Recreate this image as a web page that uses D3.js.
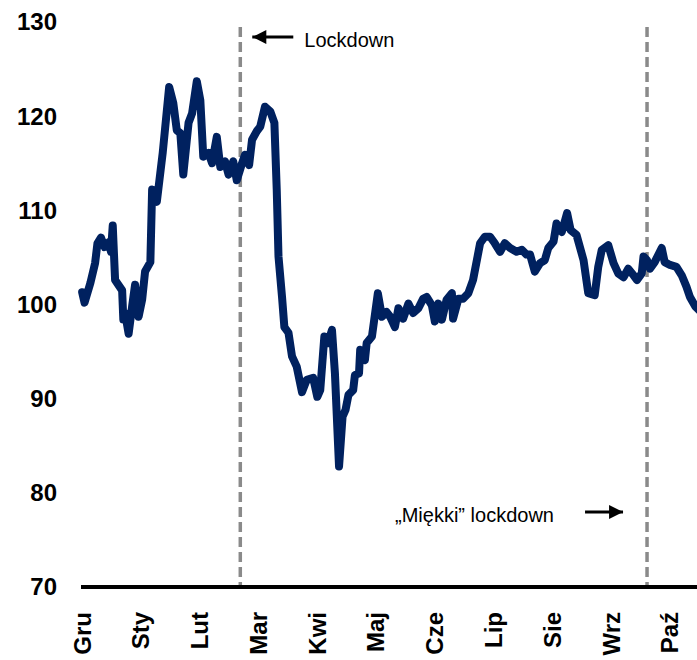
<!DOCTYPE html>
<html>
<head>
<meta charset="utf-8">
<script src="https://cdn.jsdelivr.net/npm/d3@7"></script>
<style>
	body { margin: 0; background: #fff; }
	text { font-family: "Liberation Sans", Arial, sans-serif; }
	.tick-label { font-size: 24px; font-weight: bold; fill: #000; }
	.note { font-size: 20px; fill: #000; }
</style>
</head>
<body>
<div class="container"></div>
<script>
// months on the x axis, position = index
var months = ['Gru', 'Sty', 'Lut', 'Mar', 'Kwi', 'Maj', 'Cze', 'Lip', 'Sie', 'Wrz', 'Paź'];

var yTicks = [70, 80, 90, 100, 110, 120, 130];

// time in months since start of the chart
var t = [
	0.00, 0.04, 0.14, 0.22, 0.26, 0.32, 0.38, 0.45, 0.49, 0.52,
	0.56, 0.68, 0.70, 0.73, 0.79, 0.85, 0.90, 0.96, 1.02, 1.07,
	1.16, 1.19, 1.27, 1.37, 1.48, 1.55, 1.61, 1.67, 1.72, 1.81,
	1.87, 1.95, 2.01, 2.06, 2.15, 2.21, 2.29, 2.35, 2.43, 2.49,
	2.57, 2.63, 2.72, 2.77, 2.84, 2.89, 2.97, 3.03, 3.11, 3.20,
	3.27, 3.31, 3.34, 3.40, 3.44, 3.51, 3.57, 3.65, 3.74, 3.82,
	3.93, 4.00, 4.05, 4.12, 4.18, 4.25, 4.30, 4.37, 4.43, 4.48,
	4.53, 4.61, 4.64, 4.71, 4.73, 4.81, 4.84, 4.93, 5.03, 5.10,
	5.18, 5.24, 5.32, 5.38, 5.46, 5.55, 5.63, 5.72, 5.80, 5.86,
	5.95, 6.00, 6.06, 6.12, 6.20, 6.29, 6.31, 6.40, 6.48, 6.57,
	6.65, 6.77, 6.85, 6.94, 7.02, 7.11, 7.19, 7.28, 7.39, 7.48,
	7.56, 7.62, 7.70, 7.79, 7.87, 7.93, 8.02, 8.07, 8.16, 8.25,
	8.31, 8.41, 8.53, 8.61, 8.72, 8.78, 8.84, 8.95, 9.04, 9.12,
	9.21, 9.29, 9.38, 9.44, 9.52, 9.55, 9.61, 9.66, 9.74, 9.86,
	9.91, 10.00, 10.11, 10.20, 10.28, 10.34, 10.43, 10.51
];

var values = [
	101.3, 100.2, 102.3, 104.4, 106.5, 107.1, 106.1, 106.6, 105.6, 108.4,
	102.6, 101.5, 98.4, 99.1, 96.9, 99.8, 102.1, 98.7, 100.5, 103.5,
	104.5, 112.2, 110.9, 116.1, 123.1, 121.4, 118.5, 118.2, 113.8, 119.3,
	120.3, 123.7, 121.7, 115.7, 116.1, 115.0, 117.8, 114.6, 115.2, 113.8,
	115.2, 113.2, 115.0, 115.9, 114.8, 117.5, 118.4, 118.9, 121.0, 120.5,
	119.3, 112.2, 105.1, 100.8, 97.6, 97.0, 94.5, 93.4, 90.7, 92.0,
	92.2, 90.2, 90.9, 96.6, 95.9, 97.3, 92.7, 82.8, 88.1, 88.8,
	90.4, 90.9, 92.5, 92.7, 95.2, 94.1, 95.9, 96.6, 101.2, 98.7,
	99.2, 98.7, 97.6, 99.6, 98.5, 100.1, 99.1, 99.6, 100.6, 100.8,
	99.9, 98.2, 100.1, 98.4, 100.5, 101.2, 98.5, 100.6, 100.6, 101.2,
	102.6, 106.5, 107.2, 107.2, 106.5, 105.6, 106.5, 106.0, 105.6, 105.8,
	105.3, 105.3, 103.5, 104.4, 104.7, 106.0, 106.7, 108.6, 107.7, 109.7,
	107.9, 107.4, 104.7, 101.2, 101.0, 104.0, 105.8, 106.3, 104.4, 103.3,
	102.9, 103.8, 103.1, 102.6, 103.3, 105.1, 104.7, 103.8, 104.5, 106.0,
	104.5, 104.2, 104.0, 103.1, 101.9, 100.8, 99.8, 99.3
];

// dashed event markers
var events = [2.69, 9.61];
var eventLabels = ['Lockdown', '\u201EMiękki\u201D lockdown'];

var width = 697,
	height = 660;

var x = d3.scaleLinear()
	.domain([-0.02, 10.46])
	.range([81, 697]);

var y = d3.scaleLinear()
	.domain([70, 130])
	.range([587, 22]);

var svg = d3.select('.container')
	.append('svg')
	.attr('width', width)
	.attr('height', height);

var defs = svg.append('defs');

defs.append('marker')
	.attr('id', 'arrow')
	.attr('viewBox', '0 0 10 10')
	.attr('refX', 10)
	.attr('refY', 5)
	.attr('markerUnits', 'userSpaceOnUse')
	.attr('markerWidth', 15)
	.attr('markerHeight', 14)
	.attr('orient', 'auto')
	.append('path')
		.attr('d', 'M0,0L10,5L0,10Z')
		.style('fill', '#000');

// y axis labels, no axis line
svg.append('g')
	.selectAll('text')
	.data(yTicks)
	.enter().append('text')
		.classed('tick-label', true)
		.attr('x', 57)
		.attr('y', function (d) { return y(d); })
		.attr('dy', '.35em')
		.attr('text-anchor', 'end')
		.text(function (d) { return d; });

// x labels, rotated
svg.append('g')
	.selectAll('text')
	.data(months)
	.enter().append('text')
		.classed('tick-label', true)
		.attr('transform', function (d, i) {
			return 'translate(' + x(i) + ',612) rotate(-90)';
		})
		.attr('dy', '.35em')
		.attr('text-anchor', 'end')
		.text(function (d) { return d; });

// event markers
svg.append('g')
	.selectAll('line')
	.data(events)
	.enter().append('line')
		.attr('x1', function (d) { return x(d); })
		.attr('x2', function (d) { return x(d); })
		.attr('y1', 27)
		.attr('y2', y(70))
		.style('stroke', '#8a8a8a')
		.style('stroke-width', 3.5)
		.style('stroke-dasharray', '10,5');

// the series
var line = d3.line()
	.x(function (d) { return x(d[0]); })
	.y(function (d) { return y(d[1]); });

svg.append('path')
	.datum(d3.zip(t, values))
	.attr('d', line)
	.style('fill', 'none')
	.style('stroke', '#00215f')
	.style('stroke-width', 8)
	.style('stroke-linejoin', 'round')
	.style('stroke-linecap', 'round');

// x axis line at 70
svg.append('line')
	.attr('x1', x.range()[0])
	.attr('x2', x.range()[1])
	.attr('y1', y(70))
	.attr('y2', y(70))
	.style('stroke', '#000')
	.style('stroke-width', 4);

// annotations
svg.append('line')
	.attr('x1', x(events[0]) + 53)
	.attr('x2', x(events[0]) + 12)
	.attr('y1', 37)
	.attr('y2', 37)
	.attr('marker-end', 'url(#arrow)')
	.style('stroke', '#000')
	.style('stroke-width', 3);

svg.append('text')
	.classed('note', true)
	.attr('x', x(events[0]) + 64)
	.attr('y', 47)
	.text(eventLabels[0]);

svg.append('line')
	.attr('x1', x(events[1]) - 62)
	.attr('x2', x(events[1]) - 24)
	.attr('y1', 512)
	.attr('y2', 512)
	.attr('marker-end', 'url(#arrow)')
	.style('stroke', '#000')
	.style('stroke-width', 3);

svg.append('text')
	.classed('note', true)
	.attr('x', x(events[1]) - 252)
	.attr('y', 522)
	.text(eventLabels[1]);
</script>
</body>
</html>
